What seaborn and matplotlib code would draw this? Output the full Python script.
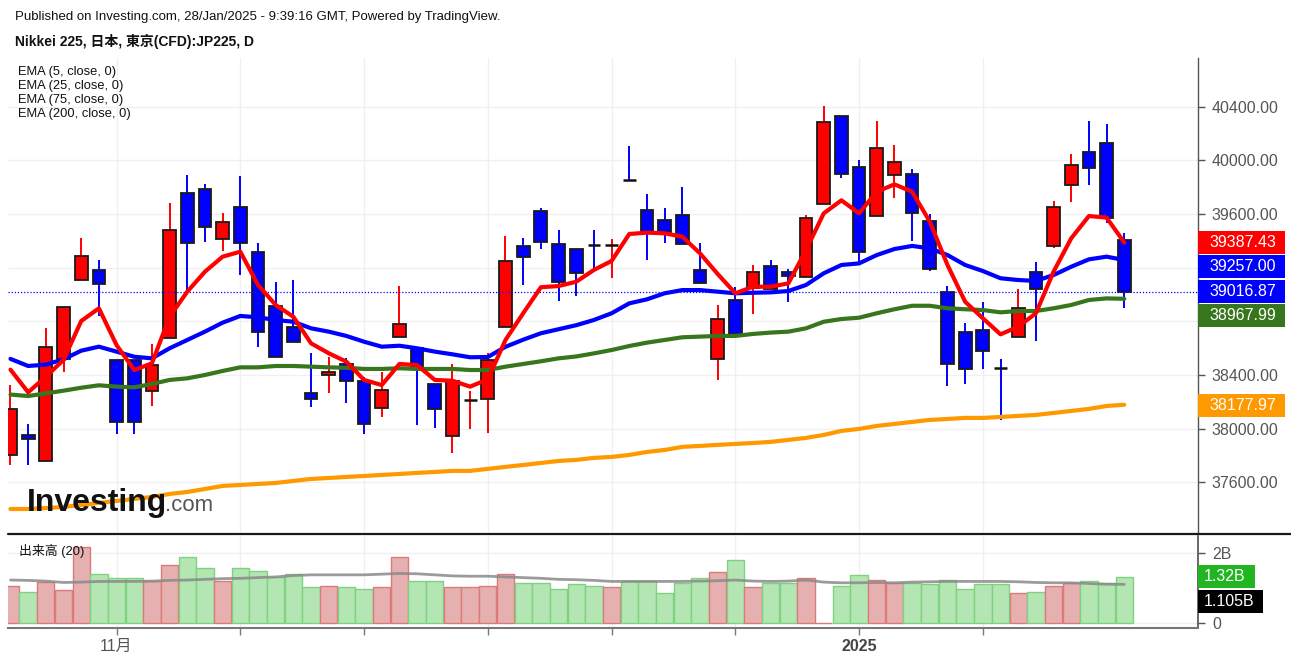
import numpy as np
import seaborn as sns
import matplotlib.pyplot as plt
from matplotlib.patches import Rectangle
from matplotlib.transforms import blended_transform_factory

# ---------------------------------------------------------
# DATA (64 sessions)
# ---------------------------------------------------------
opens = [37806, 37953, 37761, 38521, 39106, 39183, 38512, 38512, 38278, 38678,
         39754, 39784, 39416, 39652, 39317, 38916, 38760, 38268, 38400, 38480,
         38357, 38152, 38681, 38599, 38330, 37945, 38205, 38219, 38755, 39362,
         39622, 39374, 39341, 39380, 39364, 39858, 39630, 39553, 39595, 39180,
         38521, 38959, 39046, 39215, 39170, 39133, 39675, 40333, 39953, 39585,
         39889, 39898, 39550, 39016, 38723, 38733, 38458, 38681, 39170, 39362,
         39819, 40065, 40132, 39404]
highs = [38325, 38032, 38748, 38905, 39421, 39257, 38512, 38512, 38629, 39680,
         39891, 39824, 39610, 39883, 39386, 39095, 39108, 38562, 38536, 38524,
         38383, 38424, 39063, 38599, 38330, 38482, 38281, 38562, 39436, 39423,
         39643, 39481, 39341, 39481, 39411, 40107, 39749, 39643, 39799, 39386,
         38922, 39058, 39220, 39257, 39188, 39593, 40407, 40333, 40003, 40293,
         40114, 39936, 39600, 39063, 38785, 38942, 38517, 39041, 39244, 39699,
         40045, 40293, 40269, 39456]
lows = [37729, 37729, 37750, 38424, 39106, 38842, 37960, 37960, 38171, 38678,
        39033, 39389, 39326, 39145, 38606, 38534, 38644, 38163, 38263, 38193,
        37960, 38089, 38681, 38027, 38002, 37816, 37995, 37970, 38755, 39071,
        39337, 38954, 38989, 39183, 39121, 39850, 39257, 39382, 39374, 39083,
        38363, 38703, 38855, 39039, 38942, 39133, 39675, 39871, 39240, 39585,
        39717, 39399, 39177, 38320, 38330, 38442, 38064, 38681, 38653, 39344,
        39692, 39816, 39535, 38897]
closes = [38144, 37920, 38611, 38905, 39285, 39080, 38052, 38052, 38477, 39483,
          39384, 39505, 39540, 39382, 38723, 38534, 38644, 38219, 38420, 38355,
          38032, 38288, 38780, 38442, 38144, 38357, 38210, 38512, 39250, 39282,
          39394, 39091, 39158, 39372, 39370, 39850, 39468, 39464, 39374, 39083,
          38815, 38703, 39170, 39039, 39138, 39573, 40288, 39896, 39317, 40090,
          39985, 39608, 39192, 38480, 38442, 38579, 38450, 38902, 39039, 39650,
          39965, 39941, 39573, 39016.87]

ema5 = [38440, 38271, 38387, 38512, 38802, 38897, 38623, 38437, 38487, 38834,
        39021, 39170, 39282, 39319, 39071, 38922, 38834, 38636, 38562, 38499,
        38363, 38325, 38482, 38474, 38363, 38357, 38313, 38368, 38661, 38860,
        39054, 39063, 39095, 39183, 39250, 39451, 39461, 39456, 39431, 39307,
        39153, 39009, 39058, 39058, 39083, 39332, 39605, 39702, 39605, 39766,
        39821, 39766, 39543, 39220, 38946, 38823, 38703, 38760, 38860, 39170,
        39419, 39585, 39573, 39387.43]
ema25 = [38520, 38467, 38477, 38517, 38581, 38611, 38574, 38536, 38524, 38599,
         38661, 38723, 38790, 38840, 38830, 38810, 38797, 38748, 38723, 38691,
         38648, 38611, 38618, 38599, 38574, 38554, 38532, 38534, 38610, 38663,
         38711, 38741, 38771, 38810, 38860, 38934, 38964, 39009, 39033, 39033,
         39021, 39009, 39013, 39016, 39026, 39071, 39158, 39220, 39232, 39294,
         39339, 39362, 39344, 39294, 39220, 39175, 39121, 39108, 39101, 39145,
         39207, 39262, 39282, 39257.00]
ema75 = [38254, 38243, 38263, 38283, 38305, 38323, 38313, 38308, 38333, 38363,
         38375, 38400, 38430, 38457, 38457, 38467, 38467, 38462, 38457, 38454,
         38445, 38445, 38450, 38445, 38445, 38445, 38437, 38437, 38462, 38482,
         38502, 38524, 38538, 38561, 38586, 38616, 38641, 38661, 38681, 38686,
         38691, 38691, 38706, 38716, 38723, 38748, 38797, 38817, 38827, 38860,
         38890, 38916, 38916, 38897, 38890, 38884, 38867, 38877, 38877, 38897,
         38922, 38959, 38971, 38967.99]
ema200 = [37401, 37401, 37408, 37416, 37431, 37446, 37461, 37476, 37491, 37513,
          37528, 37550, 37573, 37580, 37588, 37595, 37610, 37625, 37632, 37640,
          37647, 37655, 37662, 37670, 37677, 37685, 37685, 37700, 37715, 37729,
          37744, 37759, 37767, 37782, 37789, 37804, 37826, 37841, 37864, 37871,
          37879, 37886, 37893, 37901, 37916, 37931, 37953, 37983, 37998, 38020,
          38035, 38050, 38065, 38072, 38080, 38080, 38087, 38095, 38102, 38117,
          38132, 38147, 38169, 38177.97]

# volume in billions
volume = [1.057, 0.893, 1.162, 0.932, 2.19, 1.412, 1.278, 1.278, 1.191, 1.671,
          1.883, 1.575, 1.191, 1.575, 1.489, 1.326, 1.412, 1.018, 1.066, 1.018,
          0.970, 1.018, 1.883, 1.191, 1.191, 1.018, 1.018, 1.066, 1.412, 1.143,
          1.143, 0.970, 1.105, 1.057, 1.018, 1.191, 1.191, 0.845, 1.143, 1.278,
          1.451, 1.796, 1.018, 1.143, 1.143, 1.278, 0.0, 1.057, 1.364, 1.239,
          1.153, 1.143, 1.105, 1.239, 0.970, 1.105, 1.105, 0.845, 0.884, 1.057,
          1.153, 1.191, 1.153, 1.32]
volume_ma = [1.23, 1.22, 1.20, 1.16, 1.17, 1.19, 1.19, 1.19, 1.20, 1.22,
             1.23, 1.25, 1.27, 1.28, 1.30, 1.32, 1.36, 1.38, 1.38, 1.38,
             1.38, 1.40, 1.42, 1.41, 1.38, 1.35, 1.34, 1.34, 1.32, 1.30,
             1.28, 1.25, 1.24, 1.22, 1.19, 1.19, 1.19, 1.19, 1.19, 1.20,
             1.21, 1.23, 1.20, 1.19, 1.20, 1.23, 1.17, 1.15, 1.15, 1.16,
             1.15, 1.17, 1.18, 1.19, 1.19, 1.19, 1.19, 1.18, 1.16, 1.15,
             1.15, 1.13, 1.11, 1.105]

price_ticks = [37600, 38000, 38400, 38800, 39200, 39600, 40000, 40400]
# 38800 / 39200 sit under the coloured value tags in the original, so no text there
price_tick_labels = ['37600.00', '38000.00', '38400.00', '', '', '39600.00', '40000.00', '40400.00']
date_tick_pos = [6, 13, 20, 27, 34, 41, 48, 55]
date_tick_labels = ['11月', '', '', '', '', '', '2025', '']

legend_lines = ['EMA (5, close, 0)', 'EMA (25, close, 0)',
                'EMA (75, close, 0)', 'EMA (200, close, 0)']

# ---------------------------------------------------------
# STYLE / FIGURE
# ---------------------------------------------------------
sns.set_theme(style='white')
plt.rcParams['font.family'] = ['Liberation Sans', 'Noto Sans CJK JP', 'DejaVu Sans']

W, H = 1291, 662
fig = plt.figure(figsize=(W / 100, H / 100), dpi=100)


def fx(px):
    return px / W


def fy(py):
    return 1 - py / H


ax = fig.add_axes([fx(8), fy(533), fx(1198) - fx(8), fy(58) - fy(533)])
axv = fig.add_axes([fx(8), fy(628), fx(1198) - fx(8), fy(536) - fy(628)], sharex=ax)

idx = np.arange(len(closes))
o = np.array(opens)
c = np.array(closes)
up = c >= o
col = np.where(up, '#ff0000', '#0000ff')

# ---------------------------------------------------------
# MAIN PANEL: candles + EMAs
# ---------------------------------------------------------
ax.vlines(idx, lows, highs, colors=col, lw=1.4, zorder=2)
body_lo = np.minimum(o, c)
body_h = np.abs(c - o)
doji = body_h < 12
ax.bar(idx[~doji], body_h[~doji], bottom=body_lo[~doji], width=0.72,
       color=col[~doji], edgecolor='#1a1a1a', linewidth=1.3, zorder=3)
ax.hlines(c[doji], idx[doji] - 0.36, idx[doji] + 0.36, colors='#111111', lw=1.8, zorder=3)

ax.axhline(closes[-1], color='#0000ff', ls=(0, (1, 1.5)), lw=0.9, zorder=3.5)

ema_colors = ['#ff0000', '#0000ff', '#38761d', '#ff9900']
for series, colr in zip([ema200, ema75, ema25, ema5], ema_colors[::-1]):
    sns.lineplot(x=idx, y=series, ax=ax, color=colr, lw=3, zorder=4)

ax.set_xlim(-0.14, 67.17)
ax.set_ylim(37222, 40763)
ax.yaxis.tick_right()
ax.set_yticks(price_ticks)
ax.set_yticklabels(price_tick_labels)
ax.tick_params(axis='y', colors='#555555', labelsize=11.5, length=5, width=1,
               direction='out', pad=5, right=True, left=False)
ax.tick_params(axis='x', length=0, labelbottom=False)
ax.set_xticks(date_tick_pos)
ax.grid(True, color='#f0f0f0', lw=1)
ax.set_axisbelow(True)
for side in ['top', 'left', 'bottom']:
    ax.spines[side].set_visible(False)
ax.spines['right'].set_color('#555555')
ax.spines['right'].set_linewidth(1)

# price labels on the right axis
bt = blended_transform_factory(ax.transAxes, ax.transData)
px_per_pt = (533 - 58) / (40763 - 37222)
box_h = 23 / px_per_pt
box_w = 87 / (1198 - 8)
price_labels = [(39387.43, 39387.43, '#ff0000'),
                (39257.00, 39207, '#0000ff'),
                (39016.87, 39026, '#0000ff'),
                (38967.99, 38840, '#38761d'),
                (38177.97, 38172, '#ff9900')]
for val, ypos, colr in price_labels:
    ax.add_patch(Rectangle((1.0, ypos - box_h / 2), box_w, box_h, transform=bt,
                           facecolor=colr, edgecolor='none', clip_on=False, zorder=10))
    ax.text(1.0 + 11 / 1190, ypos, f'{val:.2f}', transform=bt, color='white',
            fontsize=11.5, va='center', ha='left', clip_on=False, zorder=11)

# ---------------------------------------------------------
# VOLUME PANEL
# ---------------------------------------------------------
vfill = np.where(up, '#e6b0b0', '#b3e6b3')
vedge = np.where(up, '#dc7a7a', '#80d280')
axv.bar(idx, volume, width=0.98, color=vfill, edgecolor=vedge, linewidth=1, zorder=2)
sns.lineplot(x=idx, y=volume_ma, ax=axv, color='#8a8a8a', lw=2, alpha=0.85, zorder=3)

axv.set_ylim(-0.153, 2.5)
axv.yaxis.tick_right()
axv.set_yticks([0, 2])
axv.set_yticklabels(['0', '2B'])
axv.tick_params(axis='y', colors='#555555', labelsize=11.5, length=5, width=1,
                direction='out', pad=5, right=True, left=False)
axv.set_xticks(date_tick_pos)
axv.set_xticklabels(date_tick_labels)
axv.tick_params(axis='x', colors='#777777', labelcolor='#555555', labelsize=11.5,
                length=5, width=1, direction='out', pad=3, bottom=True)
axv.get_xticklabels()[6].set_fontweight('bold')
axv.get_xticklabels()[6].set_color('#444444')
axv.grid(True, color='#f0f0f0', lw=1)
axv.set_axisbelow(True)
for side in ['top', 'left']:
    axv.spines[side].set_visible(False)
axv.spines['right'].set_color('#555555')
axv.spines['bottom'].set_color('#777777')
axv.spines['bottom'].set_linewidth(1.5)

vt = blended_transform_factory(axv.transAxes, axv.transData)
vpx = (628 - 536) / 2.653
for val, ypos, colr, wpx in [('1.32B', 1.32, '#22b522', 57), ('1.105B', 0.625, '#000000', 65)]:
    hh = 23 / vpx
    axv.add_patch(Rectangle((1.0, ypos - hh / 2), wpx / 1190, hh, transform=vt,
                            facecolor=colr, edgecolor='none', clip_on=False, zorder=10))
    axv.text(1.0 + 6 / 1190, ypos, val, transform=vt, color='white', fontsize=11.5,
             va='center', ha='left', clip_on=False, zorder=11)

axv.text((19 - 8) / (1198 - 8), 0.84, '出来高 (20)',
         transform=axv.transAxes, fontsize=9.3, va='center', ha='left', color='#111111')

# separator between panels
fig.add_artist(plt.Line2D([fx(8), 1.0], [fy(534), fy(534)], color='#1a1a1a', lw=1.6))

# ---------------------------------------------------------
# TEXT
# ---------------------------------------------------------
fig.text(fx(15), fy(17), 'Published on Investing.com, 28/Jan/2025 - 9:39:16 GMT, Powered by TradingView.',
         fontsize=9.5, va='center', ha='left', color='#111111')
fig.text(fx(15), fy(41.5), 'Nikkei 225, 日本, 東京(CFD):JP225, D',
         fontsize=10, fontweight='bold', va='center', ha='left', color='#111111')
for i, line in enumerate(legend_lines):
    fig.text(fx(18), fy(72 + 14 * i), line, fontsize=9.3, va='center', ha='left', color='#111111')

fig.text(fx(27), fy(511), 'Investing', fontsize=23, fontweight='bold', va='baseline',
         ha='left', color='#111111')
fig.text(fx(165), fy(511), '.com', fontsize=16, va='baseline', ha='left', color='#555555')

fig.savefig('out.png', dpi=100)
